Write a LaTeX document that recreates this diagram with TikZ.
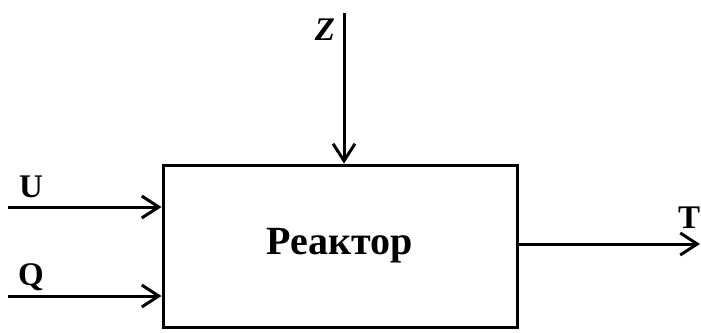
\documentclass[tikz,border=0pt]{standalone}
\usepackage{fontspec}
\setmainfont{Liberation Serif}
\usetikzlibrary{arrows.meta}
\begin{document}
\begin{tikzpicture}[x=1pt,y=-1pt,
  arr/.style={line width=3pt,-{Straight Barb[length=17pt,width=22pt,line width=3pt]}},
  lbl/.style={font=\fontsize{33}{34}\selectfont\bfseries,inner sep=0pt},
  blockbox/.style={draw,line width=3pt,minimum width=354pt,minimum height=162pt,inner sep=0pt,font=\fontsize{40}{42}\selectfont\bfseries}]
\useasboundingbox (0,0) rectangle (701,332);
\node[blockbox] (box) at (340,246) {Реактор};
\coordinate (u0) at (8,207);
\coordinate (q0) at (8,296);
\coordinate (z0) at (344,13);
\coordinate (t1) at (700,244);
\draw[arr] (u0) -- (u0 -| box.west);
\draw[arr] (q0) -- (q0 -| box.west);
\draw[arr] (z0) -- (z0 |- box.north);
\draw[arr] (t1 -| box.east) -- (t1);
\node[lbl] (lu) at (31,187) {U};
\node[lbl] (lq) at (31,277) {Q};
\node[lbl,font=\fontsize{33}{34}\selectfont\bfseries\itshape] (lz) at (325,30) {Z};
\node[lbl] (lt) at (689,218) {T};
\end{tikzpicture}
\end{document}
